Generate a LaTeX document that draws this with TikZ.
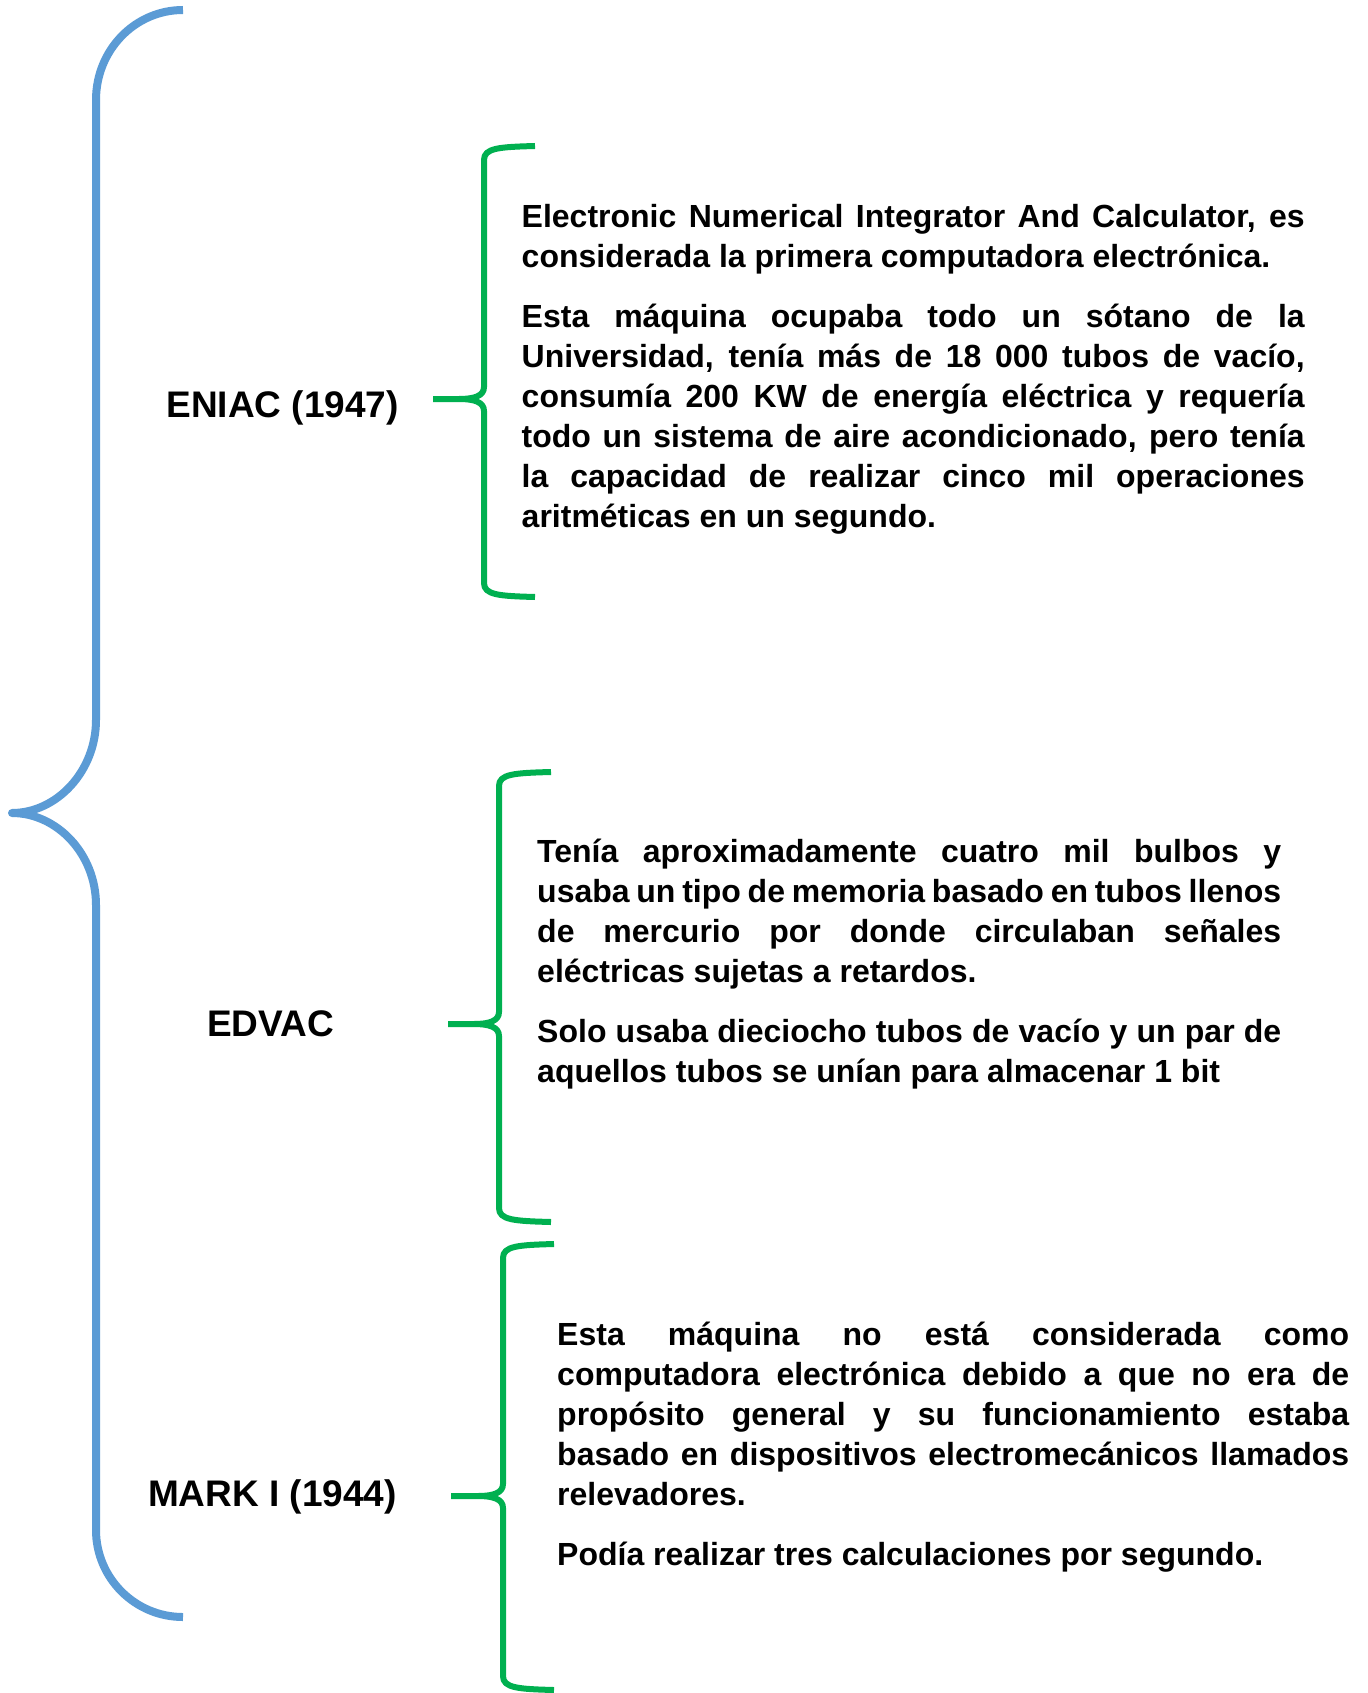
\documentclass[tikz,border=0pt]{standalone}
\usepackage{fontspec}
\setmainfont{Liberation Sans}
\definecolor{bracegreen}{HTML}{00B050}
\definecolor{braceblue}{HTML}{5B9BD5}
\newcommand\greenbrace[6]{%
  \draw[gbr] (#6,#2) .. controls ({#1+15},{#2+1}) and (#1,{#2+2}) .. (#1,{#2+14})
    -- (#1,{#4-12}) .. controls (#1,{#4-3}) and ({#1-10},#4) .. ({#1-25},#4) -- (#3,#4)
    (#3,#4) -- ({#1-25},#4) .. controls ({#1-10},#4) and (#1,{#4+3}) .. (#1,{#4+12})
    -- (#1,{#5-14}) .. controls (#1,{#5-2}) and ({#1+15},{#5-1}) .. (#6,#5);
}
\newcommand\bodytext[2]{\parbox[t]{#1}{\fontsize{32pt}{40pt}\selectfont\bfseries
  \parskip=20pt\hyphenpenalty=10000\exhyphenpenalty=10000 #2}}
\tikzset{
  gbr/.style={draw=bracegreen, line width=6pt, line join=round},
  bbr/.style={draw=braceblue, line width=8pt, line join=round},
  lbl/.style={anchor=base, inner sep=0pt, font=\fontsize{37pt}{40pt}\selectfont\bfseries},
  txt/.style={anchor=base west, inner sep=0pt}
}
\begin{document}
\begin{tikzpicture}[x=1pt,y=-1pt]
\useasboundingbox[fill=white] (0,0) rectangle (1367,1693);
% big blue brace
\draw[bbr] (183,10) .. controls (135,10) and (96,50) .. (96,100) -- (96,720)
  .. controls (96,771) and (57,813) .. (12,813)
  .. controls (57,813) and (96,854) .. (96,905) -- (96,1530)
  .. controls (96,1578) and (135,1617) .. (183,1617);
% green braces
\greenbrace{484}{146}{433}{399}{597}{535}
\greenbrace{499}{772}{448}{1024}{1222}{551}
\greenbrace{503}{1244}{451}{1496}{1690}{554}
% labels
\node[lbl] (eniac) at (282.5,417) {ENIAC (1947)};
\node[lbl] (edvac) at (270.5,1036) {EDVAC};
\node[lbl] (mark) at (272.5,1506) {MARK I (1944)};
% texts
\node[txt] (teniac) at (521.5,228) {\bodytext{783pt}{Electronic Numerical Integrator And Calculator, es\linebreak considerada la primera computadora electrónica.\par
Esta máquina ocupaba todo un sótano de la\linebreak Universidad, tenía más de 18 000 tubos de vacío,\linebreak consumía 200 KW de energía eléctrica y requería\linebreak todo un sistema de aire acondicionado, pero tenía\linebreak la capacidad de realizar cinco mil operaciones\linebreak aritméticas en un segundo.}};
\node[txt] (tedvac) at (537,862) {\bodytext{744pt}{Tenía aproximadamente cuatro mil bulbos y\linebreak usaba un tipo de memoria basado en tubos llenos\linebreak de mercurio por donde circulaban señales\linebreak eléctricas sujetas a retardos.\par
Solo usaba dieciocho tubos de vacío y un par de\linebreak aquellos tubos se unían para almacenar 1 bit}};
\node[txt] (tmark) at (557,1345) {\bodytext{792pt}{Esta máquina no está considerada como\linebreak computadora electrónica debido a que no era de\linebreak propósito general y su funcionamiento estaba\linebreak basado en dispositivos electromecánicos llamados\linebreak relevadores.\par
Podía realizar tres calculaciones por segundo.}};
\end{tikzpicture}
\end{document}
